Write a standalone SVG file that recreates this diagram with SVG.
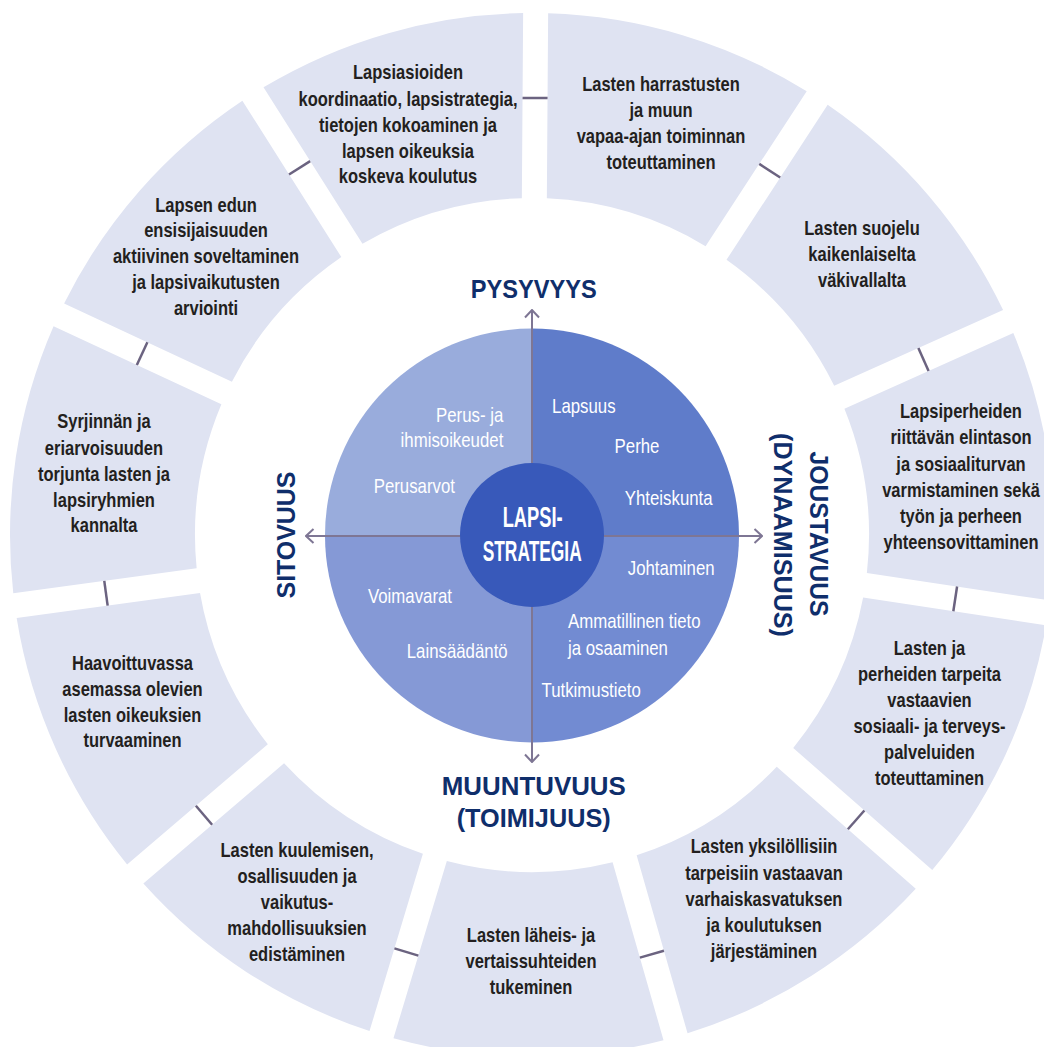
<svg xmlns="http://www.w3.org/2000/svg" width="1044" height="1047" viewBox="0 0 1044 1047">
<defs>
<style>
.seg{fill:#dfe3f2}
.st{font-family:"Liberation Sans",Arial,sans-serif;font-weight:bold;font-size:20px;fill:#231f20;text-anchor:middle}
.wt{font-family:"Liberation Sans",Arial,sans-serif;font-size:20.5px;fill:#ffffff}
.hd{font-family:"Liberation Sans",Arial,sans-serif;font-weight:bold;font-size:26px;fill:#0f2e6b;text-anchor:middle}
.ct{font-family:"Liberation Sans",Arial,sans-serif;font-weight:bold;font-size:29px;fill:#ffffff;text-anchor:middle}
.tick{stroke:#6b6380;stroke-width:2.5;fill:none}
.axis{stroke:#7e7694;stroke-width:2;fill:none}
</style>
<marker id="chev" viewBox="0 0 10 16" refX="9" refY="8" markerWidth="10" markerHeight="16" markerUnits="userSpaceOnUse" orient="auto">
<path d="M1.5,1 L9,8 L1.5,15" fill="none" stroke="#7e7694" stroke-width="2"/>
</marker>
</defs>
<rect x="0" y="0" width="1044" height="1047" fill="#ffffff"/>

<g id="seg-harrastukset">
<path class="seg" d="M548.14,13.25 A522,522 0 0 1 806.72,91.14 L705.57,246.14 A337,337 0 0 0 546.85,198.33 Z"/>
<g transform="translate(661,0) scale(0.825,1)"><text class="st"><tspan x="0" y="91">Lasten harrastusten</tspan><tspan x="0" y="117">ja muun</tspan><tspan x="0" y="143">vapaa-ajan toiminnan</tspan><tspan x="0" y="169">toteuttaminen</tspan></text></g>
</g>
<g id="seg-suojelu">
<path class="seg" d="M827.66,104.80 A522,522 0 0 1 1003.08,310.12 L834.20,385.83 A337,337 0 0 0 726.51,259.80 Z"/>
<g transform="translate(862,0) scale(0.825,1)"><text class="st"><tspan x="0" y="235">Lasten suojelu</tspan><tspan x="0" y="261">kaikenlaiselta</tspan><tspan x="0" y="287">väkivallalta</tspan></text></g>
</g>
<g id="seg-elintaso">
<path class="seg" d="M1013.31,332.94 A522,522 0 0 1 1049.88,600.51 L866.87,572.89 A337,337 0 0 0 844.42,408.65 Z"/>
<g transform="translate(961,0) scale(0.825,1)"><text class="st"><tspan x="0" y="418.3">Lapsiperheiden</tspan><tspan x="0" y="444.5">riittävän elintason</tspan><tspan x="0" y="470.7">ja sosiaaliturvan</tspan><tspan x="0" y="496.9">varmistaminen sekä</tspan><tspan x="0" y="523.1">työn ja perheen</tspan><tspan x="0" y="549.3">yhteensovittaminen</tspan></text></g>
</g>
<g id="seg-palvelut">
<path class="seg" d="M1046.14,625.23 A522,522 0 0 1 932.24,870.09 L793.22,747.92 A337,337 0 0 0 863.13,597.61 Z"/>
<g transform="translate(929.5,0) scale(0.825,1)"><text class="st"><tspan x="0" y="655">Lasten ja</tspan><tspan x="0" y="681">perheiden tarpeita</tspan><tspan x="0" y="707">vastaavien</tspan><tspan x="0" y="733">sosiaali- ja terveys-</tspan><tspan x="0" y="759">palveluiden</tspan><tspan x="0" y="785">toteuttaminen</tspan></text></g>
</g>
<g id="seg-varhaiskasvatus">
<path class="seg" d="M915.74,888.87 A522,522 0 0 1 687.55,1033.29 L636.64,855.34 A337,337 0 0 0 776.72,766.70 Z"/>
<g transform="translate(764,0) scale(0.825,1)"><text class="st"><tspan x="0" y="853.3">Lasten yksilöllisiin</tspan><tspan x="0" y="879.6">tarpeisiin vastaavan</tspan><tspan x="0" y="905.9">varhaiskasvatuksen</tspan><tspan x="0" y="932.2">ja koulutuksen</tspan><tspan x="0" y="958.4">järjestäminen</tspan></text></g>
</g>
<g id="seg-vertaissuhteet">
<path class="seg" d="M663.51,1040.17 A522,522 0 0 1 393.45,1038.28 L446.84,861.07 A337,337 0 0 0 612.60,862.22 Z"/>
<g transform="translate(531,0) scale(0.825,1)"><text class="st"><tspan x="0" y="942">Lasten läheis- ja</tspan><tspan x="0" y="968">vertaissuhteiden</tspan><tspan x="0" y="994">tukeminen</tspan></text></g>
</g>
<g id="seg-osallisuus">
<path class="seg" d="M369.51,1031.06 A522,522 0 0 1 143.35,883.48 L284.07,763.25 A337,337 0 0 0 422.90,853.85 Z"/>
<g transform="translate(297,0) scale(0.825,1)"><text class="st"><tspan x="0" y="857">Lasten kuulemisen,</tspan><tspan x="0" y="883">osallisuuden ja</tspan><tspan x="0" y="909">vaikutus-</tspan><tspan x="0" y="935">mahdollisuuksien</tspan><tspan x="0" y="961">edistäminen</tspan></text></g>
</g>
<g id="seg-haavoittuvat">
<path class="seg" d="M127.11,864.48 A522,522 0 0 1 16.65,618.04 L200.02,592.98 A337,337 0 0 0 267.83,744.25 Z"/>
<g transform="translate(132.5,0) scale(0.825,1)"><text class="st"><tspan x="0" y="670">Haavoittuvassa</tspan><tspan x="0" y="696">asemassa olevien</tspan><tspan x="0" y="722">lasten oikeuksien</tspan><tspan x="0" y="747.5">turvaaminen</tspan></text></g>
</g>
<g id="seg-syrjinta">
<path class="seg" d="M13.27,593.28 A522,522 0 0 1 53.56,326.24 L221.38,404.30 A337,337 0 0 0 196.64,568.22 Z"/>
<g transform="translate(104,0) scale(0.825,1)"><text class="st"><tspan x="0" y="428.3">Syrjinnän ja</tspan><tspan x="0" y="454.8">eriarvoisuuden</tspan><tspan x="0" y="481.2">torjunta lasten ja</tspan><tspan x="0" y="507">lapsiryhmien</tspan><tspan x="0" y="532.5">kannalta</tspan></text></g>
</g>
<g id="seg-lapsen-etu">
<path class="seg" d="M64.10,303.58 A522,522 0 0 1 242.38,100.71 L341.35,257.11 A337,337 0 0 0 231.92,381.64 Z"/>
<g transform="translate(206,0) scale(0.825,1)"><text class="st"><tspan x="0" y="211.7">Lapsen edun</tspan><tspan x="0" y="237.5">ensisijaisuuden</tspan><tspan x="0" y="263.5">aktiivinen soveltaminen</tspan><tspan x="0" y="289.5">ja lapsivaikutusten</tspan><tspan x="0" y="315">arviointi</tspan></text></g>
</g>
<g id="seg-koordinaatio">
<path class="seg" d="M263.50,87.35 A522,522 0 0 1 523.14,13.08 L521.85,198.15 A337,337 0 0 0 362.47,243.75 Z"/>
<g transform="translate(408,0) scale(0.825,1)"><text class="st"><tspan x="0" y="79.5">Lapsiasioiden</tspan><tspan x="0" y="105.8">koordinaatio, lapsistrategia,</tspan><tspan x="0" y="131.8">tietojen kokoaminen ja</tspan><tspan x="0" y="157.8">lapsen oikeuksia</tspan><tspan x="0" y="183.5">koskeva koulutus</tspan></text></g>
</g>

<g id="quadrant-top-left">
<path d="M532,536 L325,536 A207,207 0 0 1 532,328.5 Z" fill="#99acdc"/>
<g transform="translate(503.3,0) scale(0.82,1)"><text class="wt" text-anchor="end"><tspan x="0" y="421.7">Perus- ja</tspan><tspan x="0" y="446.7">ihmisoikeudet</tspan></text></g>
<g transform="translate(414.3,0) scale(0.82,1)"><text class="wt" text-anchor="middle" x="0" y="493.3">Perusarvot</text></g>
</g>
<g id="quadrant-top-right">
<path d="M532,536 L532,328.5 A207,207 0 0 1 739,536 Z" fill="#5f7cca"/>
<g transform="translate(583.8,0) scale(0.82,1)"><text class="wt" text-anchor="middle" x="0" y="413.3">Lapsuus</text></g>
<g transform="translate(637,0) scale(0.82,1)"><text class="wt" text-anchor="middle" x="0" y="453.3">Perhe</text></g>
<g transform="translate(668.7,0) scale(0.82,1)"><text class="wt" text-anchor="middle" x="0" y="505">Yhteiskunta</text></g>
</g>
<g id="quadrant-bottom-right">
<path d="M532,536 L739,536 A207,207 0 0 1 532,742.5 Z" fill="#728bd2"/>
<g transform="translate(671.2,0) scale(0.82,1)"><text class="wt" text-anchor="middle" x="0" y="575">Johtaminen</text></g>
<g transform="translate(568,0) scale(0.82,1)"><text class="wt"><tspan x="0" y="628.3">Ammatillinen tieto</tspan><tspan x="0" y="655">ja osaaminen</tspan></text></g>
<g transform="translate(591.2,0) scale(0.82,1)"><text class="wt" text-anchor="middle" x="0" y="696.7">Tutkimustieto</text></g>
</g>
<g id="quadrant-bottom-left">
<path d="M532,536 L532,742.5 A207,207 0 0 1 325,536 Z" fill="#8599d6"/>
<g transform="translate(410,0) scale(0.82,1)"><text class="wt" text-anchor="middle" x="0" y="603.3">Voimavarat</text></g>
<g transform="translate(457.2,0) scale(0.82,1)"><text class="wt" text-anchor="middle" x="0" y="658.3">Lainsäädäntö</text></g>
</g>

<g id="connectors">
<line class="tick" x1="522.55" y1="97.92" x2="547.55" y2="98.10"/>
<line class="tick" x1="759.26" y1="163.87" x2="780.20" y2="177.53"/>
<line class="tick" x1="918.36" y1="348.10" x2="928.58" y2="370.92"/>
<line class="tick" x1="957.08" y1="586.51" x2="953.34" y2="611.23"/>
<line class="tick" x1="864.38" y1="810.45" x2="847.88" y2="829.23"/>
<line class="tick" x1="663.93" y1="950.75" x2="639.89" y2="957.63"/>
<line class="tick" x1="418.36" y1="955.60" x2="394.42" y2="948.38"/>
<line class="tick" x1="212.12" y1="824.72" x2="195.88" y2="805.72"/>
<line class="tick" x1="107.65" y1="605.60" x2="104.27" y2="580.84"/>
<line class="tick" x1="136.84" y1="364.98" x2="147.38" y2="342.32"/>
<line class="tick" x1="289.04" y1="174.44" x2="310.16" y2="161.08"/>
<line class="axis" x1="532" y1="536" x2="532" y2="310" marker-end="url(#chev)"/>
<line class="axis" x1="532" y1="536" x2="532" y2="762" marker-end="url(#chev)"/>
<line class="axis" x1="532" y1="536" x2="306" y2="536" marker-end="url(#chev)"/>
<line class="axis" x1="532" y1="536" x2="762" y2="536" marker-end="url(#chev)"/>
</g>

<g id="center">
<circle cx="532" cy="535" r="72" fill="#3859ba"/>
<text class="ct" x="532.7" y="526.7" textLength="60" lengthAdjust="spacingAndGlyphs">LAPSI-</text>
<text class="ct" x="532.2" y="560.7" textLength="99" lengthAdjust="spacingAndGlyphs">STRATEGIA</text>
</g>

<g id="label-pysyvyys">
<text class="hd" x="533.7" y="298.3" textLength="126" lengthAdjust="spacingAndGlyphs">PYSYVYYS</text>
</g>
<g id="label-muuntuvuus">
<text class="hd" x="533.8" y="795" textLength="184" lengthAdjust="spacingAndGlyphs">MUUNTUVUUS</text>
<text class="hd" x="533.7" y="826.5" textLength="154" lengthAdjust="spacingAndGlyphs">(TOIMIJUUS)</text>
</g>
<g id="label-sitovuus">
<text class="hd" transform="translate(295,535) rotate(-90)" x="0" y="0" textLength="127" lengthAdjust="spacingAndGlyphs">SITOVUUS</text>
</g>
<g id="label-joustavuus">
<text class="hd" transform="translate(810,534) rotate(90)" x="0" y="0" textLength="165" lengthAdjust="spacingAndGlyphs">JOUSTAVUUS</text>
<text class="hd" transform="translate(774,535) rotate(90)" x="0" y="0" textLength="204" lengthAdjust="spacingAndGlyphs">(DYNAAMISUUS)</text>
</g>
</svg>
